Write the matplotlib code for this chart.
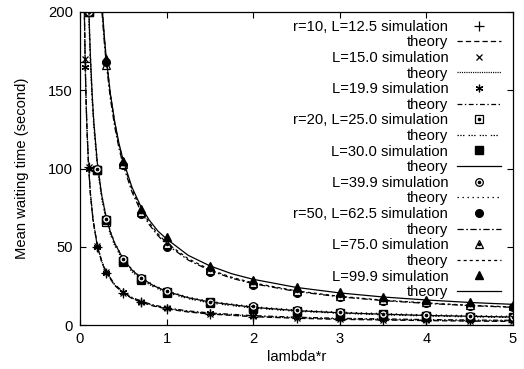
import matplotlib
matplotlib.use("Agg")
from matplotlib import pyplot as plt
from matplotlib.legend_handler import HandlerTuple

plt.rcParams['font.family'] = ['Liberation Sans', 'DejaVu Sans']
plt.rcParams['font.size'] = 10.6
plt.rcParams['lines.scale_dashes'] = False

# simulation points, one x grid per r
x_sim10 = [0.06, 0.1, 0.2, 0.3, 0.5, 0.7, 1, 1.5, 2, 2.5, 3, 3.5, 4, 4.5, 5]
sim_125 = [168, 101, 50, 33.5, 20.3, 14.5, 10.3, 7.0, 5.2, 4.2, 3.5, 3.0, 2.7, 2.4, 2.2]
sim_150 = [170, 101, 50.5, 34, 20.6, 14.8, 10.6, 7.3, 5.5, 4.5, 3.8, 3.4, 3.0, 2.7, 2.5]
sim_199 = [165, 100, 50, 33.5, 20.8, 15.0, 11.0, 7.7, 5.9, 4.9, 4.2, 3.8, 3.4, 3.1, 2.9]

x_sim20 = [0.1, 0.2, 0.3, 0.5, 0.7, 1, 1.5, 2, 2.5, 3, 3.5, 4, 4.5, 5]
sim_250 = [200, 99, 66, 40, 28.5, 20.5, 13.8, 10.5, 8.5, 7.2, 6.3, 5.6, 5.0, 4.6]
sim_300 = [200, 99, 67, 41, 29.5, 21, 14.5, 11, 9.0, 7.7, 6.8, 6.0, 5.4, 5.0]
sim_399 = [200, 100, 68, 42, 30, 22, 15, 12, 9.6, 8.2, 7.3, 6.5, 5.9, 5.4]

x_sim50 = [0.3, 0.5, 0.7, 1, 1.5, 2, 2.5, 3, 3.5, 4, 4.5, 5]
sim_625 = [168, 102, 71, 50, 34, 25.6, 20.4, 17.8, 15.4, 14.0, 12.1, 11.2]
sim_750 = [166, 103, 72, 52, 35, 27, 21.5, 18.5, 16.0, 14.5, 13.0, 12.0]
sim_999 = [170, 105, 74, 56, 38, 28.5, 24, 21, 18, 16, 14.7, 13]

# theory curves
x_th10 = [0.04, 0.05, 0.06, 0.07, 0.08, 0.1, 0.12, 0.15, 0.2, 0.25, 0.3, 0.4, 0.5,
          0.6, 0.7, 0.85, 1.0, 1.25, 1.5, 2.0, 2.5, 3.0, 3.5, 4.0, 4.5, 5.0]
th_125 = [250.3, 200.3, 167.0, 143.2, 125.3, 100.3, 83.6, 67.0, 50.3, 40.3, 33.6, 25.3, 20.3,
          17.0, 14.6, 12.1, 10.3, 8.3, 7.0, 5.3, 4.3, 3.6, 3.2, 2.8, 2.5, 2.3]
th_150 = [250.6, 200.6, 167.3, 143.5, 125.6, 100.6, 83.9, 67.3, 50.6, 40.6, 33.9, 25.6, 20.6,
          17.3, 14.9, 12.4, 10.6, 8.6, 7.3, 5.6, 4.6, 3.9, 3.5, 3.1, 2.8, 2.6]
th_199 = [251.0, 201.0, 167.7, 143.9, 126.0, 101.0, 84.3, 67.7, 51.0, 41.0, 34.3, 26.0, 21.0,
          17.7, 15.3, 12.8, 11.0, 9.0, 7.7, 6.0, 5.0, 4.3, 3.9, 3.5, 3.2, 3.0]

x_th20 = [0.09, 0.1, 0.11, 0.12, 0.14, 0.16, 0.2, 0.25, 0.3, 0.35, 0.4, 0.5, 0.6,
          0.7, 0.85, 1.0, 1.25, 1.5, 2.0, 2.5, 3.0, 3.5, 4.0, 4.5, 5.0]
th_250 = [223.0, 200.8, 182.6, 167.5, 143.7, 125.8, 100.8, 80.8, 67.5, 57.9, 50.8, 40.8, 34.1,
          29.4, 24.3, 20.8, 16.8, 14.1, 10.8, 8.8, 7.5, 6.5, 5.8, 5.2, 4.8]
th_300 = [228.8, 206.0, 187.4, 171.8, 147.4, 129.1, 103.5, 83.0, 69.3, 59.6, 52.3, 42.0, 35.2,
          30.3, 25.1, 21.5, 17.4, 14.7, 11.3, 9.2, 7.8, 6.9, 6.1, 5.6, 5.1]
th_399 = [229.2, 206.4, 187.8, 172.2, 147.8, 129.5, 103.9, 83.4, 69.7, 60.0, 52.7, 42.4, 35.6,
          30.7, 25.5, 21.9, 17.8, 15.1, 11.7, 9.6, 8.2, 7.3, 6.5, 6.0, 5.5]

x_th50 = [0.24, 0.25, 0.28, 0.3, 0.35, 0.4, 0.45, 0.5, 0.6, 0.7, 0.8, 0.9, 1.0,
          1.25, 1.5, 1.75, 2.0, 2.5, 3.0, 3.5, 4.0, 4.5, 5.0]
th_625 = [210.7, 202.3, 180.7, 168.8, 144.8, 126.9, 112.9, 101.8, 85.0, 73.0, 64.1, 57.1, 51.5,
          41.5, 34.8, 29.9, 26.4, 21.4, 18.0, 15.6, 13.8, 12.4, 11.3]
th_750 = [214.8, 206.3, 184.3, 172.1, 147.7, 129.4, 115.2, 103.8, 86.7, 74.5, 65.3, 58.2, 52.5,
          42.3, 35.4, 30.5, 26.9, 21.8, 18.3, 15.9, 14.1, 12.6, 11.5]
th_999 = [216.0, 207.0, 185.0, 172.0, 148.0, 130.0, 116.0, 105.0, 88.0, 76.0, 67.0, 60.0, 55.0,
          44.5, 37.8, 32.8, 29.2, 24.0, 20.5, 17.9, 16.0, 14.4, 13.2]

labels = ["r=10, L=12.5 simulation", "L=15.0 simulation", "L=19.9 simulation",
          "r=20, L=25.0 simulation", "L=30.0 simulation", "L=39.9 simulation",
          "r=50, L=62.5 simulation", "L=75.0 simulation", "L=99.9 simulation"]

fig = plt.figure(figsize=(5.24, 3.69), dpi=100)
ax = fig.add_axes([0.1527, 0.1192, 0.8263, 0.8483])

lw = 0.9
ms = 5.5
k = 'black'

def dot_marker(base, x, y):
    # open marker with a small dot in its centre
    a, = ax.plot(x, y, ls='none', marker=base, ms=ms, mfc='white', mec=k, mew=lw)
    b, = ax.plot(x, y, ls='none', marker='o', ms=1.6, mfc=k, mec=k)
    return (a, b)

handles = []

# r = 10
s, = ax.plot(x_sim10, sim_125, ls='none', marker='+', ms=ms + 1, mec=k, mew=lw)
t, = ax.plot(x_th10, th_125, color=k, lw=lw, ls=(0, (3.8, 2.2)))
handles += [s, t]
s, = ax.plot(x_sim10, sim_150, ls='none', marker='x', ms=ms - 0.5, mec=k, mew=lw)
t, = ax.plot(x_th10, th_150, color=k, lw=lw, ls=(0, (0.8, 0.8)))
handles += [s, t]
s, = ax.plot(x_sim10, sim_199, ls='none', marker=(6, 2, 0), ms=ms, mec=k, mew=lw)
t, = ax.plot(x_th10, th_199, color=k, lw=lw, ls=(0, (3.5, 1.8, 1, 1.8)))
handles += [s, t]

# r = 20
s = dot_marker('s', x_sim20, sim_250)
t, = ax.plot(x_th20, th_250, color=k, lw=lw, ls=(0, (1, 1, 1, 1, 1, 3)))
handles += [s, t]
s, = ax.plot(x_sim20, sim_300, ls='none', marker='s', ms=ms, mfc=k, mec=k)
t, = ax.plot(x_th20, th_300, color=k, lw=lw, ls='-')
handles += [s, t]
s = dot_marker('o', x_sim20, sim_399)
t, = ax.plot(x_th20, th_399, color=k, lw=lw, ls=(0, (1, 2.6)))
handles += [s, t]

# r = 50
s, = ax.plot(x_sim50, sim_625, ls='none', marker='o', ms=ms, mfc=k, mec=k)
t, = ax.plot(x_th50, th_625, color=k, lw=lw, ls=(0, (4.5, 1.8, 1.2, 1.8)))
handles += [s, t]
s = dot_marker('^', x_sim50, sim_750)
t, = ax.plot(x_th50, th_750, color=k, lw=lw, ls=(0, (2.2, 2.2)))
handles += [s, t]
s, = ax.plot(x_sim50, sim_999, ls='none', marker='^', ms=ms, mfc=k, mec=k)
t, = ax.plot(x_th50, th_999, color=k, lw=lw, ls='-')
handles += [s, t]

names = []
for lab in labels:
    names += [lab, "theory"]

leg = ax.legend(handles, names, loc='upper right', bbox_to_anchor=(0.995, 1.006),
                frameon=False, markerfirst=False, handlelength=3.0,
                handletextpad=0.6, labelspacing=0.11, borderpad=0.15,
                handler_map={tuple: HandlerTuple(ndivide=1, pad=0)})

ax.set_xlim(0, 5)
ax.set_ylim(0, 200)
ax.set_xticks([0, 1, 2, 3, 4, 5])
ax.set_yticks([0, 50, 100, 150, 200])
ax.tick_params(direction='in', length=4.5, width=0.8, top=True, right=True, pad=5)
for sp in ax.spines.values():
    sp.set_linewidth(0.9)

ax.set_xlabel("lambda*r", labelpad=3)
ax.set_ylabel("Mean waiting time (second)", labelpad=14)

fig.savefig("out.png", dpi=100)
